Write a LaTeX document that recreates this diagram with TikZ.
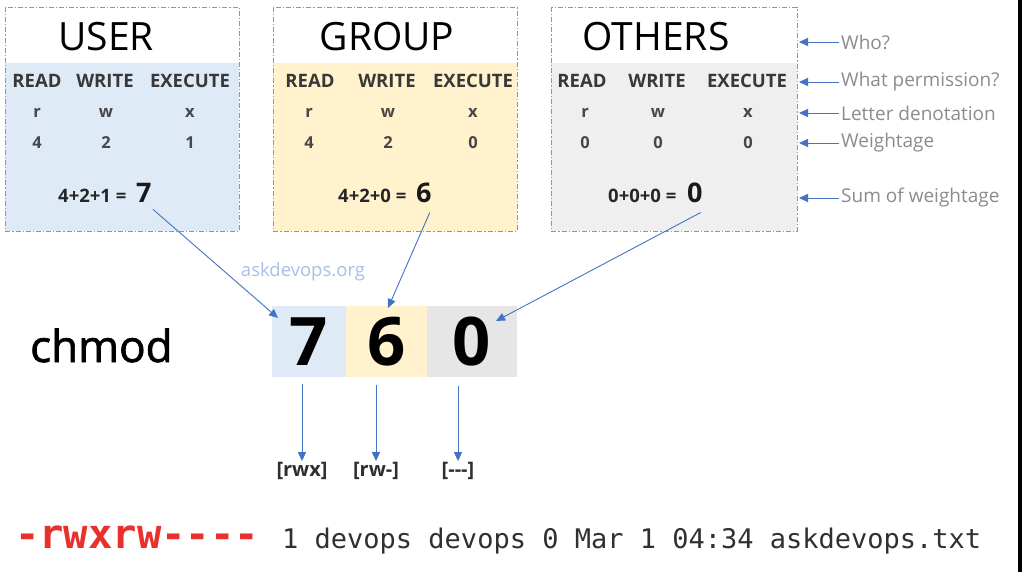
\documentclass[tikz,border=0pt]{standalone}
\usepackage{fontspec}
\setmainfont{Open Sans}
\newfontfamily\semifont[FakeBold=1.6]{Open Sans}
\newfontfamily\termfont{DejaVu Sans Mono}
\usetikzlibrary{arrows.meta}
\definecolor{ublue}{HTML}{DEEBF7}
\definecolor{gyel}{HTML}{FFF2CC}
\definecolor{ogray}{HTML}{EFEFEF}
\definecolor{dgray}{HTML}{E6E6E6}
\definecolor{bord}{HTML}{8496BF}
\definecolor{arrblue}{HTML}{4472C4}
\definecolor{sidegray}{HTML}{8C8C8C}
\definecolor{wmark}{HTML}{A9BFE5}
\definecolor{termred}{HTML}{E8312C}
\definecolor{termtxt}{HTML}{303030}
\tikzset{
  permbox/.style={draw=bord, line width=0.8pt, dash pattern=on 5pt off 2pt on 1.2pt off 2pt},
  title/.style={font=\fontsize{39}{44}\selectfont, text=black, inner sep=0pt},
  hdr/.style={font=\fontsize{18.5}{20}\selectfont\bfseries, text=black!78, inner sep=0pt},
  cell/.style={font=\fontsize{16.5}{18}\selectfont\bfseries, text=black!72, inner sep=0pt},
  sumtxt/.style={font=\fontsize{18.5}{20}\selectfont\bfseries, text=black!85, inner sep=0pt, anchor=base west},
  sumbig/.style={font=\fontsize{27}{28}\selectfont\bfseries, text=black!90, inner sep=0pt, anchor=base west},
  side/.style={font=\fontsize{19}{21}\selectfont, text=sidegray, inner sep=2pt, anchor=west},
  arr/.style={-{Triangle[length=9pt,width=8pt]}, draw=arrblue, line width=0.9pt},
  digcell/.style={minimum height=71pt, inner sep=0pt, font=\fontsize{67}{70}\selectfont\bfseries, text=black},
  permlbl/.style={font=\fontsize{20}{22}\selectfont\bfseries, text=black!82, inner sep=1pt},
}
\begin{document}
\begin{tikzpicture}[x=1pt,y=-1pt]
\useasboundingbox (0,0) rectangle (1022,572);
\fill[white] (0,0) rectangle (1022,572);
\fill[black] (1018,0) rectangle (1022,572);

% permission boxes
\fill[ublue] (5,63) rectangle (239,231);
\fill[gyel] (273,63) rectangle (517,231);
\fill[ogray] (551,63) rectangle (797,231);
\draw[permbox] (5,7) rectangle (239,231);
\draw[permbox] (273,7) rectangle (517,231);
\draw[permbox] (551,7) rectangle (797,231);

% titles
\node[title] (tu) at (106,37) {USER};
\node[title] (tg) at (387,37) {GROUP};
\node[title] (to) at (656,37) {OTHERS};

% USER rows
\node[hdr] (ur) at (37,81) {READ};
\node[hdr] (uw) at (105,81) {WRITE};
\node[hdr] (ux) at (190,81) {EXECUTE};
\node[cell] at (37,113) {r};
\node[cell] at (106,113) {w};
\node[cell] at (190,113) {x};
\node[cell] at (37,143) {4};
\node[cell] at (106,143) {2};
\node[cell] at (190,143) {1};
\node[sumtxt] (su) at (58,203) {4+2+1 =};
\node[sumbig] (s7) at (136,203) {7};

% GROUP rows
\node[hdr] (gr) at (310,81) {READ};
\node[hdr] (gw) at (387,81) {WRITE};
\node[hdr] (gx) at (473,81) {EXECUTE};
\node[cell] at (309,113) {r};
\node[cell] at (388,113) {w};
\node[cell] at (473,113) {x};
\node[cell] at (309,143) {4};
\node[cell] at (388,143) {2};
\node[cell] at (473,143) {0};
\node[sumtxt] (sg) at (338,203) {4+2+0 =};
\node[sumbig] (s6) at (416,203) {6};

% OTHERS rows
\node[hdr] (or) at (582,81) {READ};
\node[hdr] (ow) at (657,81) {WRITE};
\node[hdr] (ox) at (747,81) {EXECUTE};
\node[cell] at (585,113) {r};
\node[cell] at (658,113) {w};
\node[cell] at (748,113) {x};
\node[cell] at (585,143) {0};
\node[cell] at (658,143) {0};
\node[cell] at (748,143) {0};
\node[sumtxt] (so) at (608,203) {0+0+0 =};
\node[sumbig] (s0) at (687,203) {0};

% side labels
\coordinate (oedge) at (799,0);
\node[side] (who) at (839,42) {Who?};
\node[side] (what) at (839,82) {What permission?};
\node[side] (letter) at (839,113) {Letter denotation};
\node[side] (weight) at (839,143) {Weightage};
\node[side] (sumw) at (839,198) {Sum of weightage};
\foreach \n in {who,what,letter,weight,sumw}
  \draw[arr] (\n.west) -- (\n.west -| oedge);

% watermark
\node[font=\fontsize{18.5}{20}\selectfont, text=wmark, inner sep=0pt] (wm) at (303,272) {askdevops.org};

% chmod line
\node[font=\semifont\fontsize{44}{48}\selectfont, text=black, inner sep=0pt, anchor=base west] (chm) at (30,362) {chmod};
\node[digcell, fill=ublue, minimum width=74pt] (c7) at (309,341.5) {7};
\node[digcell, fill=gyel, minimum width=81pt] (c6) at (386.5,341.5) {6};
\node[digcell, fill=dgray, minimum width=90pt] (c0) at (472,341.5) {0};

% arrows from sums to digits
\coordinate (t7) at (278,318);
\coordinate (t6) at (388,308);
\coordinate (t0) at (496,321);
\draw[arr] ([xshift=1pt,yshift=-6pt]s7.south east) -- (t7);
\draw[arr] ([xshift=-2pt,yshift=-9pt]s6.south east) -- (t6);
\draw[arr] ([xshift=-2pt,yshift=-9pt]s0.south east) -- (t0);

% rwx labels
\node[permlbl] (l7) at (302,471) {[rwx]};
\node[permlbl] (l6) at (376,471) {[rw{-}]};
\node[permlbl] (l0) at (458,471) {[{-}{-}{-}]};
\draw[arr] ([yshift=-7pt]c7.south -| l7.north) -- (l7.north);
\draw[arr] ([yshift=-8pt]c6.south -| l6.north) -- (l6.north);
\draw[arr] ([yshift=-9pt]c0.south -| l0.north) -- (l0.north);

% terminal line
\node[font=\termfont\bfseries\fontsize{40.5}{44}\selectfont, text=termred, inner sep=0pt, anchor=base west] (perm) at (15,548) {-rwxrw----};
\node[font=\termfont\fontsize{27}{30}\selectfont, text=termtxt, inner sep=0pt, anchor=base west] (rest) at (282,548) {1 devops devops 0 Mar 1 04:34 askdevops.txt};
\end{tikzpicture}
\end{document}
